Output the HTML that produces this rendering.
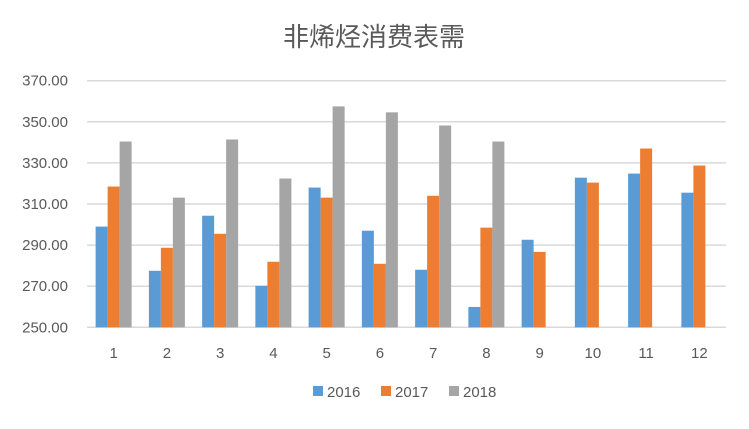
<!DOCTYPE html>
<html><head><meta charset="utf-8"><style>
body{margin:0;background:#fff;}
svg text{font-family:"Liberation Sans","Noto Sans CJK SC",sans-serif;fill:#595959;}
</style></head><body>
<svg id="chart" width="749" height="424" xmlns="http://www.w3.org/2000/svg">
<text x="374" y="46" text-anchor="middle" font-size="26">非烯烃消费表需</text>
<g id="grid"></g><g id="bars"></g><g id="labels"></g>
<g>
<rect x="313" y="386" width="10" height="10" fill="#5b9bd5"/>
<text x="327" y="397" font-size="15">2016</text>
<rect x="381" y="386" width="10" height="10" fill="#ed7d31"/>
<text x="395" y="397" font-size="15">2017</text>
<rect x="449" y="386" width="10" height="10" fill="#a5a5a5"/>
<text x="463" y="397" font-size="15">2018</text>
</g>
</svg>
<script>
const categories=["1","2","3","4","5","6","7","8","9","10","11","12"];
const s2016=[299,277.5,304.3,270.2,318,297,278,259.9,292.6,322.8,324.8,315.5];
const s2017=[318.5,288.7,295.5,281.9,313.1,280.9,314,298.5,286.7,320.4,337,328.7];
const s2018=[340.4,313.1,341.4,322.4,357.5,354.6,348.2,340.4,null,null,null,null];
const yTicks=[250,270,290,310,330,350,370];
const ns="http://www.w3.org/2000/svg";
const x0=87,x1=726,yMin=250,yMax=370,py0=327.3,py1=80.7;
const y=v=>py0-(v-yMin)/(yMax-yMin)*(py0-py1);
const bw=(x1-x0)/categories.length;
const grid=document.getElementById('grid'),bars=document.getElementById('bars'),labels=document.getElementById('labels');
yTicks.forEach(t=>{
 const l=document.createElementNS(ns,'line');
 
 
 l.setAttribute('x1',x0);l.setAttribute('x2',x1);l.setAttribute('y1',y(t));l.setAttribute('y2',y(t));
 l.setAttribute('stroke','#d9d9d9');l.setAttribute('stroke-width','1.5');grid.appendChild(l);
 const tx=document.createElementNS(ns,'text');
 
 
 tx.setAttribute('x',68);tx.setAttribute('y',y(t)+5);tx.setAttribute('text-anchor','end');tx.setAttribute('font-size','15');
 tx.textContent=t.toFixed(2);labels.appendChild(tx);
});
const series=[[s2016,'#5b9bd5','2016'],[s2017,'#ed7d31','2017'],[s2018,'#a5a5a5','2018']];
categories.forEach((c,i)=>{
 const cx=x0+bw*(i+0.5);
 series.forEach((s,j)=>{
  const v=s[0][i]; if(v==null) return;
  const r=document.createElementNS(ns,'rect');
  
  
  r.setAttribute('x',cx-18+j*12);r.setAttribute('width',12);
  r.setAttribute('y',y(v));r.setAttribute('height',py0-y(v));r.setAttribute('fill',s[1]);
  bars.appendChild(r);
 });
 const tx=document.createElementNS(ns,'text');
 
 
 tx.setAttribute('x',cx);tx.setAttribute('y',358);tx.setAttribute('text-anchor','middle');tx.setAttribute('font-size','15');
 tx.textContent=c;labels.appendChild(tx);
});
</script>
</body></html>
